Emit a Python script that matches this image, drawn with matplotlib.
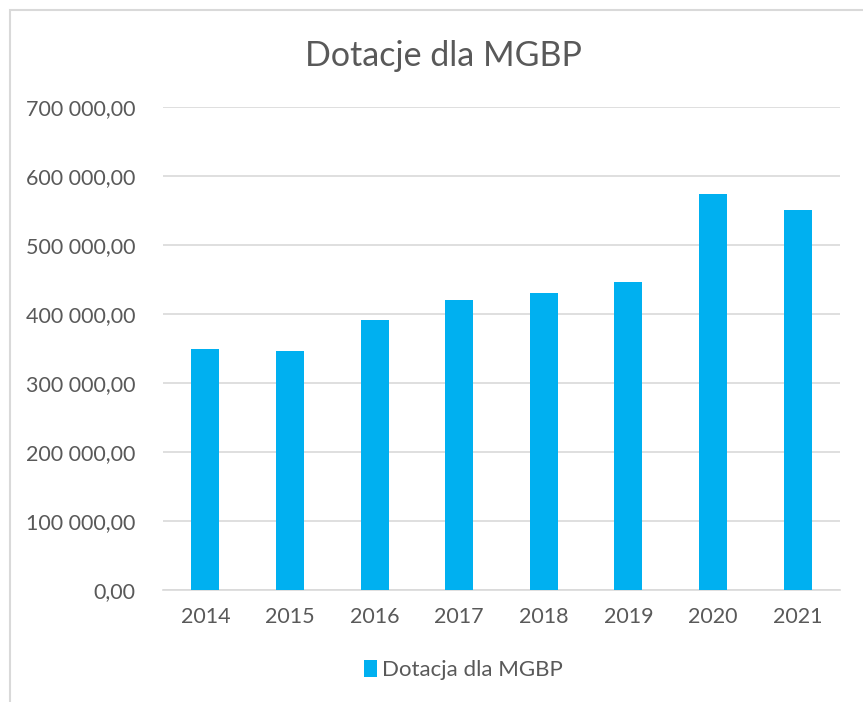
import matplotlib.pyplot as plt
from matplotlib.patches import Rectangle
from matplotlib.ticker import FuncFormatter

# Data
years = ['2014', '2015', '2016', '2017', '2018', '2019', '2020', '2021']
dotacja = [349500, 346500, 391500, 420500, 431000, 447000, 573500, 550000]

plt.rcParams['font.family'] = ['Lato', 'DejaVu Sans']
text_color = '#595959'
bar_color = '#00B0F0'

fig = plt.figure(figsize=(8.63, 7.02), dpi=100)
ax = fig.add_axes([163 / 863, 1 - 590 / 702, (840 - 163) / 863, (590 - 107) / 702])

ax.bar(years, dotacja, width=0.33, color=bar_color, label='Dotacja dla MGBP', zorder=3)

ax.set_ylim(0, 700000)
ax.set_xlim(-0.5, len(years) - 0.5)
ax.set_yticks(range(0, 700001, 100000))


def pl_fmt(v, pos):
    s = f'{v:,.2f}'.replace(',', ' ').replace('.', ',')
    return s


ax.yaxis.set_major_formatter(FuncFormatter(pl_fmt))
ax.grid(axis='y', color='#D9D9D9', linewidth=1.2, zorder=0)
for side in ['top', 'right', 'left']:
    ax.spines[side].set_visible(False)
ax.spines['bottom'].set_color('#D9D9D9')
ax.spines['bottom'].set_linewidth(1.2)
ax.tick_params(axis='both', length=0, colors=text_color, labelsize=15.5)
ax.tick_params(axis='y', pad=20)
ax.tick_params(axis='x', pad=12)

fig.text(443 / 863, 1 - 56 / 702, 'Dotacje dla MGBP', ha='center', va='center',
         fontsize=24.5, color=text_color)

fig.legend(loc='center', bbox_to_anchor=(463 / 863, 1 - 670 / 702), frameon=False,
           fontsize=16, labelcolor=text_color, handlelength=0.6, handleheight=0.8,
           handletextpad=0.2)

# chart border
fig.patches.append(Rectangle((10 / 863, -0.1), 1.2, 1 - 10 / 702 + 0.1,
                             transform=fig.transFigure, fill=False,
                             edgecolor='#D9D9D9', linewidth=1.5))

fig.savefig('out.png', dpi=100)
